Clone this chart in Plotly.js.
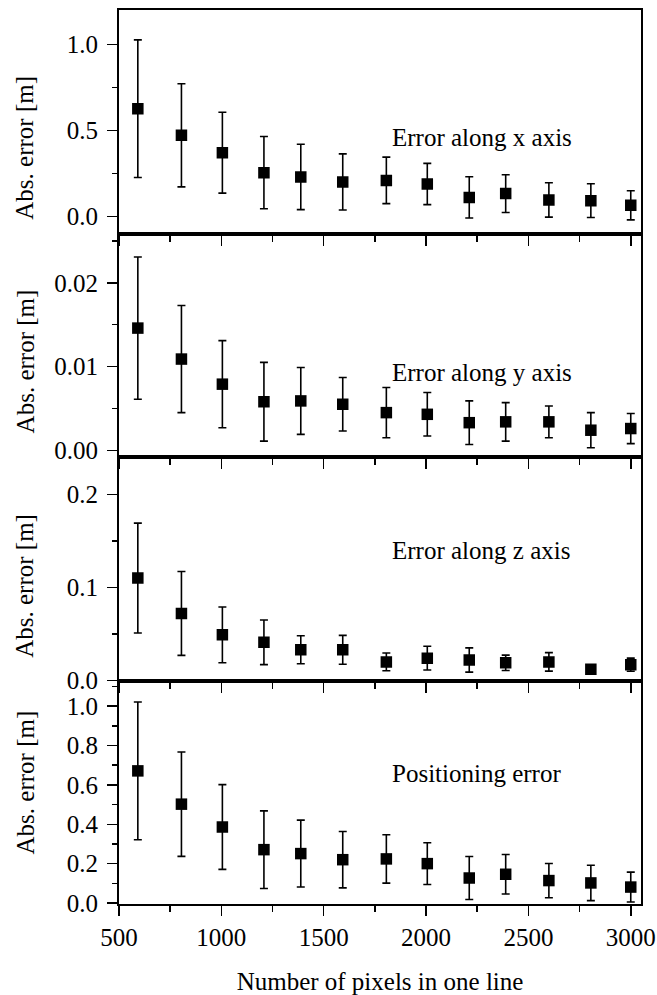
<!DOCTYPE html>
<html>
<head>
<meta charset="utf-8">
<script src="https://cdn.plot.ly/plotly-3.0.1.min.js"></script>
<style>html,body{margin:0;padding:0;background:#fff;}#chart{width:657px;height:995px;}</style>
</head>
<body>
<div id="chart"></div>
<script>
// Number of pixels in one line (x positions)
const pixels = [592, 805, 1005, 1208, 1388, 1593, 1806, 2006, 2211, 2389, 2600, 2805, 3000];

// Error along x axis [m]
const errX = [0.626, 0.471, 0.370, 0.254, 0.229, 0.200, 0.209, 0.188, 0.110, 0.132, 0.095, 0.091, 0.064];
const errXsd = [0.400, 0.300, 0.235, 0.210, 0.190, 0.163, 0.135, 0.120, 0.120, 0.110, 0.100, 0.098, 0.085];

// Error along y axis [m]
const errY = [0.0146, 0.0109, 0.0079, 0.0058, 0.0059, 0.0055, 0.0045, 0.0043, 0.0033, 0.0034, 0.0034, 0.0024, 0.0026];
const errYsd = [0.0085, 0.0064, 0.0052, 0.0047, 0.0040, 0.0032, 0.0030, 0.0026, 0.0026, 0.0023, 0.0019, 0.0021, 0.0018];

// Error along z axis [m]
const errZ = [0.110, 0.072, 0.049, 0.041, 0.033, 0.033, 0.020, 0.024, 0.022, 0.019, 0.020, 0.012, 0.017];
const errZsd = [0.059, 0.045, 0.030, 0.024, 0.015, 0.0155, 0.0095, 0.0127, 0.013, 0.0083, 0.0099, 0.003, 0.007];

// Positioning error [m]
const errP = [0.671, 0.502, 0.386, 0.271, 0.251, 0.220, 0.224, 0.200, 0.127, 0.146, 0.114, 0.102, 0.081];
const errPsd = [0.350, 0.265, 0.215, 0.197, 0.170, 0.143, 0.123, 0.106, 0.109, 0.100, 0.087, 0.090, 0.076];

const panelLabels = ["Error along x axis", "Error along y axis", "Error along z axis", "Positioning error"];
const xTitle = "Number of pixels in one line";
const yTitle = "Abs. error [m]";

const FONT = "Liberation Serif, Times New Roman, serif";
const series = [[errX, errXsd], [errY, errYsd], [errZ, errZsd], [errP, errPsd]];

const traces = series.map((s, i) => ({
  type: 'scatter', mode: 'markers',
  x: pixels, y: s[0],
  xaxis: i === 0 ? 'x' : 'x' + (i + 1),
  yaxis: i === 0 ? 'y' : 'y' + (i + 1),
  marker: {symbol: 'square', size: 11.5, color: '#000', line: {width: 0}},
  error_y: {type: 'data', array: s[1], visible: true, color: '#000', thickness: 1.6, width: 4},
  showlegend: false, hoverinfo: 'x+y'
}));

function xax(i) {
  return {
    domain: [0, 1], anchor: i === 0 ? 'y' : 'y' + (i + 1),
    range: [500, 3050], tick0: 500, dtick: 500,
    ticks: 'outside', ticklen: 10, tickwidth: 1.5, tickcolor: '#000',
    minor: {dtick: 250, tick0: 500, ticks: 'outside', ticklen: 6, tickwidth: 1.5, tickcolor: '#000'},
    showline: true, linecolor: '#000', linewidth: 2, mirror: true,
    showgrid: false, zeroline: false,
    showticklabels: i === 3,
    tickfont: {family: FONT, size: 25, color: '#000'},
    title: i === 3 ? {text: xTitle, font: {family: FONT, size: 25, color: '#000'}, standoff: 24} : {text: ''}
  };
}

const yspec = [
  {range: [-0.1, 1.2], dtick: 0.5, minor: 0.25, fmt: '.1f', dom: [0.75, 1]},
  {range: [-0.0008, 0.0259], dtick: 0.01, minor: 0.005, fmt: '.2f', dom: [0.5, 0.75]},
  {range: [0, 0.24], dtick: 0.1, minor: 0.05, fmt: '.1f', dom: [0.25, 0.5]},
  {range: [-0.005, 1.13], dtick: 0.2, minor: 0.1, fmt: '.1f', dom: [0, 0.25]}
];

function yax(i) {
  const s = yspec[i];
  return {
    domain: s.dom, anchor: i === 0 ? 'x' : 'x' + (i + 1),
    range: s.range, tick0: 0, dtick: s.dtick, tickformat: s.fmt,
    ticks: 'outside', ticklen: 10, tickwidth: 1.5, tickcolor: '#000',
    minor: {dtick: s.minor, tick0: 0, ticks: 'outside', ticklen: 5, tickwidth: 1.5, tickcolor: '#000'},
    showline: true, linecolor: '#000', linewidth: 2, mirror: true,
    showgrid: false, zeroline: false,
    tickfont: {family: FONT, size: 25, color: '#000'},
    ticklabelstandoff: 4,
    title: {text: ''}
  };
}

const labelY = [0.459, 0.0093, 0.140, 0.66];
const annotations = panelLabels.map((t, i) => ({
  text: t, showarrow: false,
  xref: i === 0 ? 'x' : 'x' + (i + 1), yref: i === 0 ? 'y' : 'y' + (i + 1),
  x: 1823, y: labelY[i], xanchor: 'left', yanchor: 'middle',
  font: {family: FONT, size: 25, color: '#000'}
}));

// y-axis titles, placed where the reference draws them (paper coordinates)
const yTitlePos = [0.846, 0.607, 0.356, 0.136];
yTitlePos.forEach(p => annotations.push({
  text: yTitle, showarrow: false, textangle: -90,
  xref: 'paper', yref: 'paper', x: -0.18, y: p,
  xanchor: 'center', yanchor: 'middle',
  font: {family: FONT, size: 25, color: '#000'}
}));

const layout = {
  width: 657, height: 995,
  margin: {l: 119, r: 16, t: 10, b: 91, pad: 0},
  paper_bgcolor: '#fff', plot_bgcolor: '#fff',
  font: {family: FONT, color: '#000'},
  annotations: annotations
};
for (let i = 0; i < 4; i++) {
  layout[i === 0 ? 'xaxis' : 'xaxis' + (i + 1)] = xax(i);
  layout[i === 0 ? 'yaxis' : 'yaxis' + (i + 1)] = yax(i);
}

Plotly.newPlot('chart', traces, layout, {displayModeBar: false, staticPlot: true});
</script>
</body>
</html>
